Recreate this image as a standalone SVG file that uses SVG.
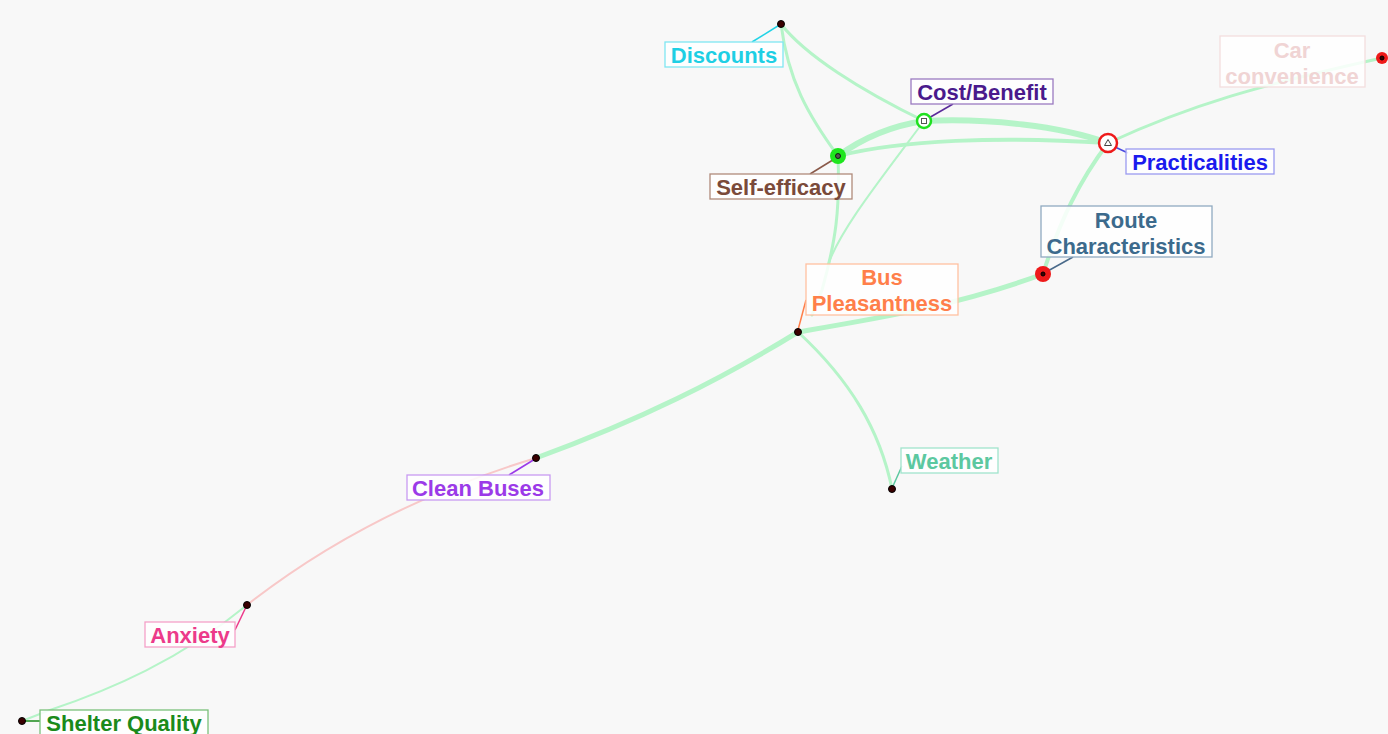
<svg xmlns="http://www.w3.org/2000/svg" width="1388" height="734" viewBox="0 0 1388 734">
<style>
.e{fill:none;stroke:#b5f4c8;stroke-linecap:round}
.lbl{font-family:"Liberation Sans",Arial,sans-serif;font-weight:bold;font-size:22px;text-anchor:middle}
.box{fill:#ffffff;fill-opacity:0.85;stroke-width:1.3}
.dot{fill:#3a0000;stroke:#000;stroke-width:1}
.lead{stroke-width:1.5;fill:none}
</style>
<rect width="1388" height="734" fill="#f8f8f8"/>
<g id="connectors">
<path class="e" stroke-width="3" d="M781,24 C788,80 808,115 838,156"/>
<path class="e" stroke-width="3" d="M781,24 C805,55 860,90 924,121"/>
<path class="e" stroke-width="6" d="M838,156 C860,140 890,126 924,121"/>
<path class="e" stroke-width="6" d="M924,121 C990,118 1060,126 1108,143"/>
<path class="e" stroke-width="4" d="M838,156 C900,140 1000,136 1108,143"/>
<path class="e" stroke-width="3" d="M838,156 C840,210 836,240 822,290 L812,315"/>
<path class="e" stroke-width="2" d="M924,121 C880,180 840,230 828,265"/>
<path class="e" stroke-width="4" d="M1108,143 C1080,180 1060,220 1043,274"/>
<path class="e" stroke-width="3" d="M1108,143 C1190,105 1260,85 1382,58"/>
<path class="e" stroke-width="5" d="M1043,274 C960,305 880,318 798,332"/>
<path class="e" stroke-width="3" d="M798,332 C850,380 880,430 892,489"/>
<path class="e" stroke-width="5" d="M798,332 C720,380 640,420 536,458"/>
<path fill="none" stroke="#f8c8c8" stroke-width="2" d="M536,458 C430,490 330,540 247,605"/>
<path class="e" stroke-width="2" d="M247,605 C180,660 110,690 50,710 L22,721"/>
</g>
<g id="discounts">
<line class="lead" stroke="#22d3e6" x1="752" y1="42" x2="781" y2="24"/>
<rect class="box" stroke="#7fe6f2" x="665" y="42" width="118" height="25"/>
<text class="lbl" fill="#1ecfe4" x="724" y="62.5">Discounts</text>
<circle class="dot" cx="781" cy="24" r="3.5"/>
</g>
<g id="cost-benefit">
<line class="lead" stroke="#5a2a9a" x1="953" y1="104" x2="927" y2="119"/>
<rect class="box" stroke="#9a7ac0" x="911" y="79" width="142" height="25"/>
<text class="lbl" fill="#4a1a8c" x="982" y="99.5">Cost/Benefit</text>
<circle cx="924" cy="121" r="7" fill="#fff" stroke="#1fe01f" stroke-width="2.5"/>
<rect x="921.5" y="118.5" width="5" height="5" fill="#fff" stroke="#555" stroke-width="1"/>
</g>
<g id="self-efficacy">
<line class="lead" stroke="#8a5a4a" x1="810" y1="174" x2="836" y2="158"/>
<rect class="box" stroke="#b08a7a" x="710" y="174" width="142" height="25"/>
<text class="lbl" fill="#7a4a3a" x="781" y="194.5">Self-efficacy</text>
<circle cx="838" cy="156" r="8" fill="#1ee61e"/>
<circle cx="838" cy="156" r="2.5" fill="#555" stroke="#000" stroke-width="0.8"/>
</g>
<g id="practicalities">
<line class="lead" stroke="#4a4ae0" x1="1128" y1="153" x2="1115" y2="147"/>
<rect class="box" stroke="#9a9af0" x="1126" y="149" width="148" height="25"/>
<text class="lbl" fill="#1a1aee" x="1200" y="169.5">Practicalities</text>
<circle cx="1108" cy="143" r="9" fill="#fff" stroke="#ee1a1a" stroke-width="2.5"/>
<path d="M1108,139.5 L1111.5,145.5 L1104.5,145.5 Z" fill="#fff" stroke="#444" stroke-width="1"/>
</g>
<g id="car-convenience">
<rect class="box" stroke="#f3dede" x="1220" y="36" width="145" height="51"/>
<text class="lbl" fill="#f0d4d4" x="1292" y="57.5">Car</text>
<text class="lbl" fill="#f0d4d4" x="1292" y="84">convenience</text>
<circle cx="1382" cy="58" r="6" fill="#ee1a1a"/>
<circle class="dot" cx="1382" cy="58" r="2"/>
</g>
<g id="route-characteristics">
<line class="lead" stroke="#4a6a8a" x1="1073" y1="257" x2="1046" y2="272"/>
<rect class="box" stroke="#90aac0" x="1041" y="206" width="171" height="51"/>
<text class="lbl" fill="#3c6a8c" x="1126" y="227.5">Route</text>
<text class="lbl" fill="#3c6a8c" x="1126" y="254">Characteristics</text>
<circle cx="1043" cy="274" r="8" fill="#ee1a1a"/>
<circle class="dot" cx="1043" cy="274" r="2"/>
</g>
<g id="bus-pleasantness">
<line class="lead" stroke="#ff7f4a" x1="806" y1="300" x2="798" y2="330"/>
<rect class="box" stroke="#ffc0a0" x="806" y="264" width="152" height="51"/>
<text class="lbl" fill="#ff7f4a" x="882" y="284.5">Bus</text>
<text class="lbl" fill="#ff7f4a" x="882" y="311">Pleasantness</text>
<circle class="dot" cx="798" cy="332" r="3.5"/>
</g>
<g id="weather">
<line class="lead" stroke="#5cc8a0" x1="902" y1="466" x2="893" y2="486"/>
<rect class="box" stroke="#a0e4cc" x="901" y="448" width="97" height="25"/>
<text class="lbl" fill="#5cc8a0" x="949" y="468.5">Weather</text>
<circle class="dot" cx="892" cy="489" r="3.5"/>
</g>
<g id="clean-buses">
<line class="lead" stroke="#9b3ae8" x1="509" y1="475" x2="535" y2="459"/>
<rect class="box" stroke="#c89af2" x="407" y="475" width="143" height="25"/>
<text class="lbl" fill="#9b3ae8" x="478" y="495.5">Clean Buses</text>
<circle class="dot" cx="536" cy="458" r="3.5"/>
</g>
<g id="anxiety">
<line class="lead" stroke="#ec3a8a" x1="235" y1="630" x2="246" y2="607"/>
<rect class="box" stroke="#f4a0c8" x="145" y="622" width="90" height="25"/>
<text class="lbl" fill="#ec3a8a" x="190" y="642.5">Anxiety</text>
<circle class="dot" cx="247" cy="605" r="3.5"/>
</g>
<g id="shelter-quality">
<line class="lead" stroke="#1a8a1a" x1="40" y1="721" x2="25" y2="721"/>
<rect class="box" stroke="#7ac07a" x="40" y="710" width="168" height="25"/>
<text class="lbl" fill="#1a8a1a" x="124" y="730.5">Shelter Quality</text>
<circle class="dot" cx="22" cy="721" r="3.5"/>
</g>
</svg>
